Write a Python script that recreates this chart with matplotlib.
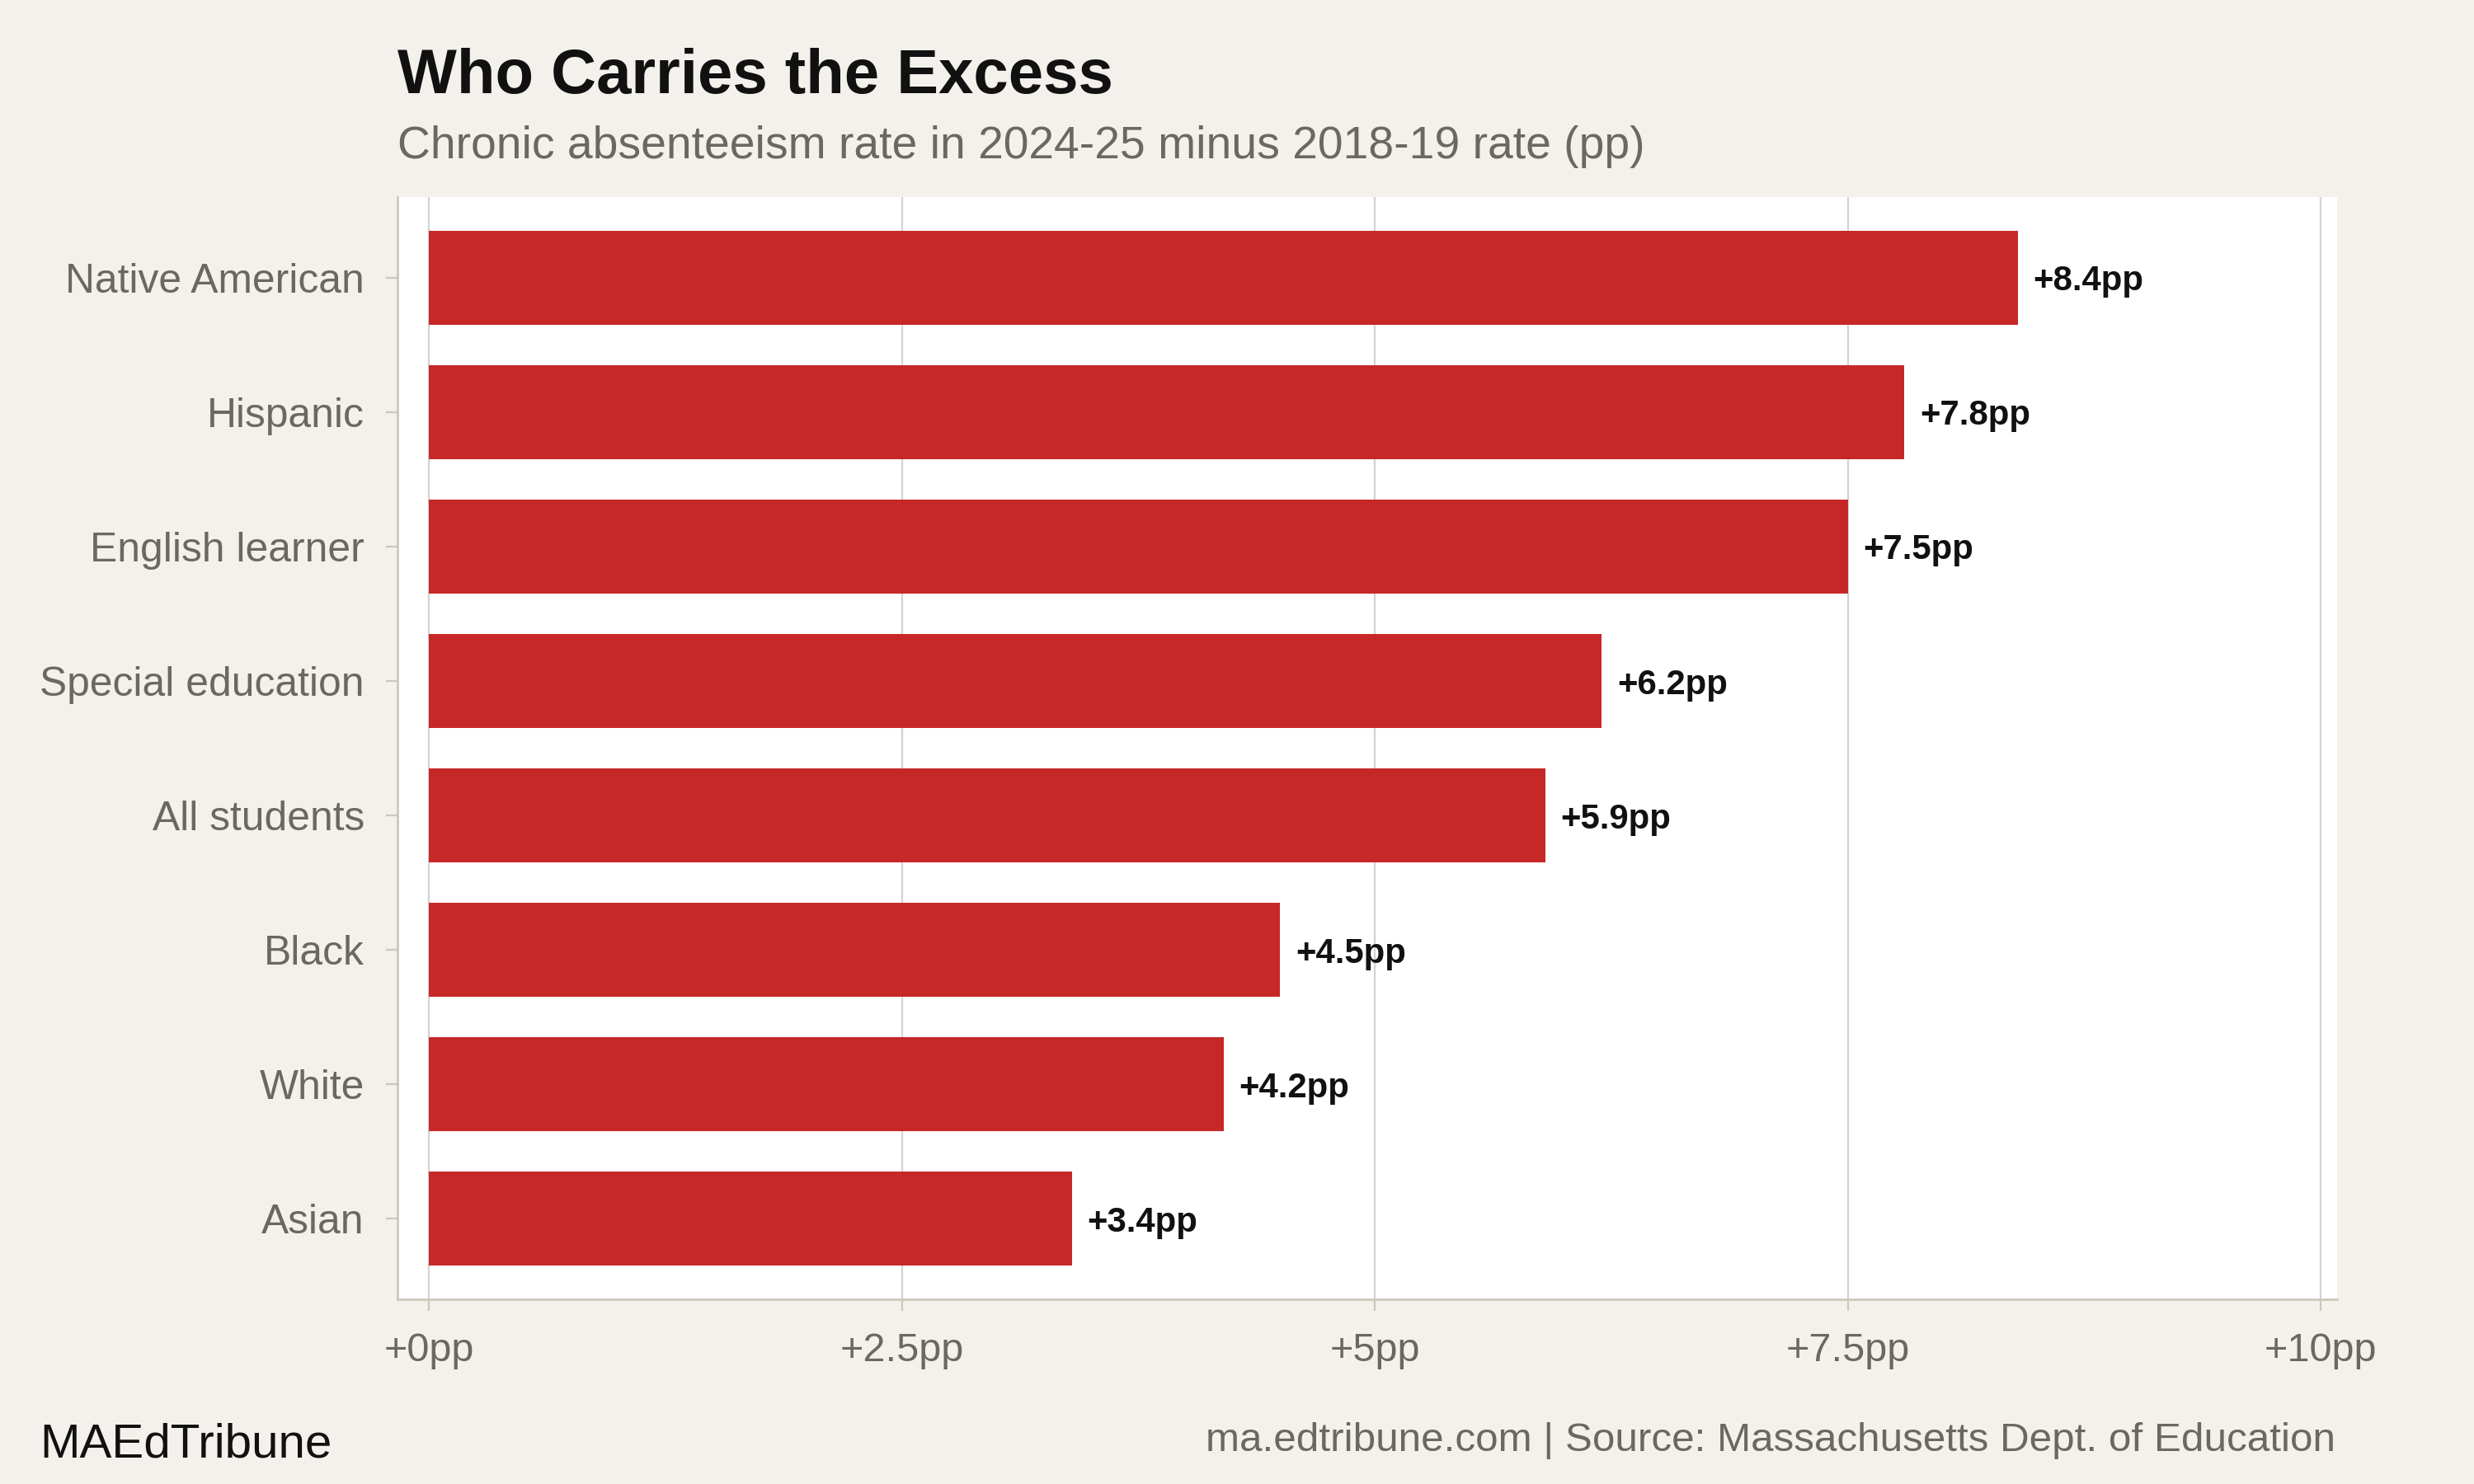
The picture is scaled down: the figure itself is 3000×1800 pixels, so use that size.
"""
Who Carries the Excess: change in chronic absenteeism rate, 2018-19 -> 2024-25,
by student group (Massachusetts).
"""

import matplotlib
matplotlib.use("Agg")
import matplotlib.pyplot as plt

# data (bottom to top)
GROUPS = ["Asian", "White", "Black", "All students", "Special education",
          "English learner", "Hispanic", "Native American"]
CHANGE_PP = [3.4, 4.2, 4.5, 5.9, 6.2, 7.5, 7.8, 8.4]
X_TICKS = [0, 2.5, 5, 7.5, 10]
X_TICK_LABELS = ["+0pp", "+2.5pp", "+5pp", "+7.5pp", "+10pp"]

TITLE = "Who Carries the Excess"
SUBTITLE = "Chronic absenteeism rate in 2024-25 minus 2018-19 rate (pp)"
BRAND = "MAEdTribune"
SOURCE = "ma.edtribune.com | Source: Massachusetts Dept. of Education"

# colours
C_BG = "#f4f1ec"
C_PANEL = "#ffffff"
C_BAR = "#c62828"
C_AXIS = "#ccc7be"
C_GRID = "#d2d2d2"
C_MUTED = "#6b6862"
C_INK = "#111111"

plt.rcParams["font.family"] = ["Liberation Sans", "DejaVu Sans"]

fig = plt.figure(figsize=(15, 9), dpi=200, facecolor=C_BG)
ax = fig.add_axes([0.1607, 0.1244, 0.7840, 0.7428], facecolor=C_PANEL)

ypos = list(range(len(GROUPS)))
ax.barh(ypos, CHANGE_PP, height=0.7, color=C_BAR, zorder=3)

for y, v in zip(ypos, CHANGE_PP):
    ax.text(v + 0.08, y, f"+{v:.1f}pp", va="center_baseline", ha="left",
            fontsize=15.1, fontweight="bold", color=C_INK, zorder=4)

ax.set_xlim(-0.166, 10.087)
ax.set_ylim(-0.6, 7.6)

ax.set_xticks(X_TICKS)
ax.set_xticklabels(X_TICK_LABELS)
ax.set_yticks(ypos)
ax.set_yticklabels(GROUPS)

ax.tick_params(axis="both", colors=C_AXIS, length=5, width=0.8,
               labelcolor=C_MUTED, labelsize=17.5, pad=9.5)
ax.tick_params(axis="y", labelsize=17.9)

ax.grid(axis="x", color=C_GRID, linewidth=0.8, zorder=0)
ax.set_axisbelow(True)

for side in ("top", "right"):
    ax.spines[side].set_visible(False)
for side in ("left", "bottom"):
    ax.spines[side].set_color(C_AXIS)
    ax.spines[side].set_linewidth(1.0)

fig.text(0.1607, 0.9372, TITLE, fontsize=27.4, fontweight="bold",
         color=C_INK, ha="left", va="baseline")
fig.text(0.1607, 0.8933, SUBTITLE, fontsize=19.9, color=C_MUTED,
         ha="left", va="baseline")

fig.text(0.016, 0.0183, BRAND, fontsize=21, color=C_INK,
         ha="left", va="baseline")
fig.text(0.944, 0.0222, SOURCE, fontsize=17.8, color=C_MUTED,
         ha="right", va="baseline")

fig.savefig("out.png", dpi=200, facecolor=C_BG)
plt.close(fig)
